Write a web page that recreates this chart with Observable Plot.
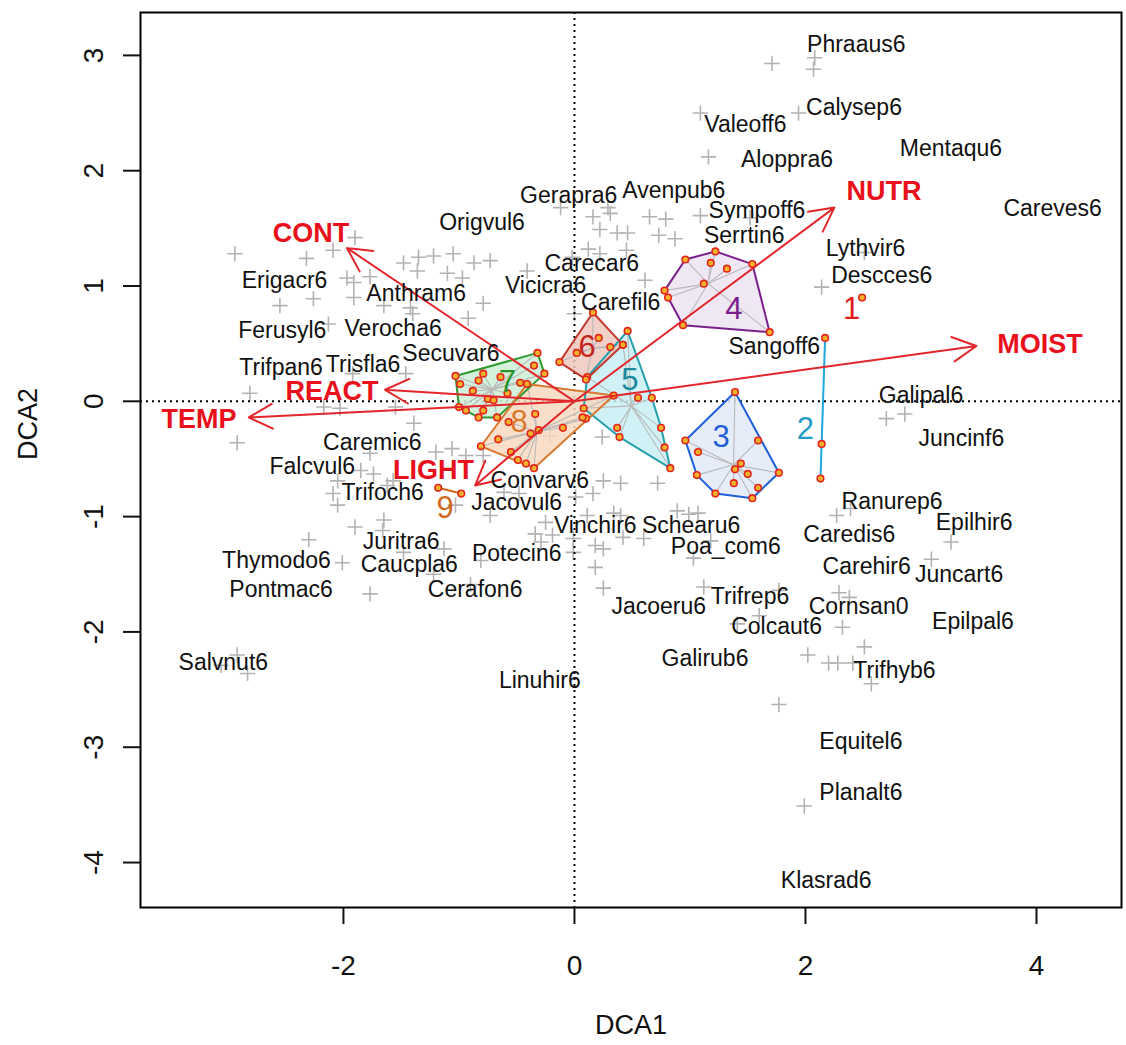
<!DOCTYPE html>
<html><head><meta charset="utf-8">
<script src="https://cdn.jsdelivr.net/npm/d3@7"></script>
<script src="https://cdn.jsdelivr.net/npm/@observablehq/plot@0.6"></script>
<style>body{margin:0;background:#fff;} #chart{width:1126px;height:1045px;}</style>
</head><body><div id="chart"></div>
<script>
// ---- Labelled species (DCA1, DCA2) ----
const speciesNames = ["Phraaus6","Calysep6","Valeoff6","Mentaqu6","Aloppra6","Gerapra6","Avenpub6","Sympoff6","Careves6","Origvul6","Serrtin6","Lythvir6","Erigacr6","Carecar6","Descces6","Vicicra6","Anthram6","Carefil6","Ferusyl6","Verocha6","Sangoff6","Secuvar6","Trifpan6","Trisfla6","Galipal6","Juncinf6","Caremic6","Falcvul6","Convarv6","Trifoch6","Jacovul6","Ranurep6","Epilhir6","Vinchir6","Schearu6","Caredis6","Poa_com6","Juritra6","Thymodo6","Potecin6","Caucpla6","Carehir6","Juncart6","Pontmac6","Trifrep6","Cerafon6","Cornsan0","Jacoeru6","Epilpal6","Colcaut6","Galirub6","Trifhyb6","Salvnut6","Linuhir6","Equitel6","Planalt6","Klasrad6"];
const speciesX = [2.44,2.42,1.48,3.26,1.84,-0.05,0.86,1.58,4.14,-0.80,1.47,2.52,-2.51,0.15,2.66,-0.25,-1.37,0.40,-2.53,-1.57,1.73,-1.07,-2.54,-1.83,3.00,3.35,-1.75,-2.27,-0.30,-1.66,-0.50,2.75,3.46,0.18,1.01,2.38,1.31,-1.50,-2.58,-0.50,-1.43,2.53,3.33,-2.54,1.52,-0.86,2.46,0.73,3.45,1.75,1.13,2.77,-3.04,-0.30,2.48,2.48,2.18];
const speciesY = [3.09,2.55,2.40,2.19,2.10,1.78,1.83,1.65,1.67,1.55,1.44,1.32,1.05,1.19,1.09,1.00,0.93,0.86,0.61,0.63,0.47,0.41,0.29,0.32,0.05,-0.32,-0.36,-0.57,-0.69,-0.79,-0.88,-0.87,-1.05,-1.08,-1.08,-1.16,-1.26,-1.22,-1.38,-1.32,-1.42,-1.43,-1.50,-1.63,-1.69,-1.63,-1.78,-1.78,-1.91,-1.95,-2.23,-2.34,-2.27,-2.42,-2.95,-3.39,-4.16];

// ---- Unlabelled species (grey crosses) ----
const otherSpecies = [[-1.90,1.42],[-2.94,1.28],[-2.32,1.24],[-2.09,1.31],[-1.97,1.07],[-1.77,1.08],[-1.91,1.03],[-1.91,0.90],[-2.26,0.89],[-2.55,0.83],[-1.48,1.20],[-1.35,1.25],[-1.22,1.26],[-1.05,1.28],[-1.36,1.13],[-0.87,1.20],[-0.73,1.22],[-1.10,1.11],[-0.97,1.07],[-1.65,0.83],[-1.42,0.81],[-1.40,0.76],[-0.92,0.72],[-0.79,0.85],[-2.13,0.67],[-1.46,0.24],[-1.92,0.24],[-2.81,0.07],[-2.17,-0.05],[-2.03,-0.06],[-1.55,-0.05],[-1.39,-0.19],[-2.92,-0.36],[-1.77,-0.45],[-1.20,-0.44],[-1.06,-0.41],[-0.94,-0.47],[-0.79,-0.47],[-1.85,-0.60],[-1.74,-0.63],[-2.05,-0.69],[-2.09,-0.80],[-1.57,-0.69],[-1.62,-0.73],[-0.61,-0.79],[-0.48,-0.80],[-0.21,-0.30],[-2.05,-0.90],[-1.90,-1.09],[-1.65,-1.03],[-1.66,-1.12],[-2.30,-1.20],[-2.01,-1.40],[-1.48,-1.31],[-1.13,-1.28],[-1.22,-1.50],[-1.77,-1.67],[-0.90,-1.59],[-0.81,-1.38],[-0.73,-0.99],[-0.25,-1.05],[-0.34,-1.15],[-0.29,-1.22],[-0.19,-1.16],[-0.01,-1.19],[-0.01,-1.31],[0.18,-1.25],[0.25,-1.28],[0.18,-1.44],[0.25,-1.62],[-2.92,-2.20],[-3.06,-2.29],[-2.83,-2.36],[0.16,-0.80],[0.34,-0.97],[-1.03,-0.90],[0.25,-0.69],[0.40,-0.71],[0.72,-0.71],[0.01,-0.83],[0.11,-0.99],[0.40,-0.99],[0.42,-1.18],[0.60,-1.19],[0.89,-0.95],[0.99,-0.98],[1.07,-0.97],[1.03,-1.36],[1.18,-1.21],[1.12,-1.61],[2.70,-0.15],[2.86,-0.11],[0.24,-0.31],[2.27,-0.99],[2.39,-0.93],[3.26,-1.22],[3.09,-1.37],[1.77,-1.64],[2.29,-1.66],[2.38,-1.70],[2.32,-1.96],[1.41,-1.93],[1.60,-1.86],[2.02,-2.20],[2.20,-2.27],[2.28,-2.27],[2.41,-2.27],[2.51,-2.13],[2.57,-2.45],[1.77,-2.63],[1.99,-3.51],[1.71,2.93],[2.08,2.98],[2.07,2.88],[1.09,2.50],[1.94,2.50],[1.16,2.12],[0.16,1.60],[0.31,1.63],[0.65,1.60],[0.79,1.58],[1.09,1.61],[1.52,1.59],[0.22,1.49],[0.37,1.46],[0.46,1.46],[0.73,1.44],[0.87,1.41],[0.12,1.32],[0.22,1.28],[0.45,1.31],[0.61,1.05],[0.00,0.76],[2.51,1.29],[2.14,0.99],[-0.12,1.68],[0.29,1.68],[-0.02,1.25],[-0.41,1.13]];

// ---- Environmental vectors ----
const envNames = ["CONT","REACT","TEMP","LIGHT","NUTR","MOIST"];
const envX = [-1.97,-1.64,-2.82,-0.86,2.25,3.48];
const envY = [1.33,0.10,-0.14,-0.73,1.68,0.48];
const envLabelX = [-2.28,-2.10,-3.25,-1.22,2.68,4.03];
const envLabelY = [1.46,0.09,-0.16,-0.60,1.82,0.49];

// ---- Site groups (cluster members) ----
const group1 = [[2.49,0.90]];
const group2 = [[2.17,0.55],[2.14,-0.37],[2.13,-0.67]];
const group3 = [[1.39,0.08],[0.96,-0.34],[1.06,-0.64],[1.22,-0.80],[1.54,-0.84],[1.77,-0.62],[1.59,-0.34],[1.07,-0.44],[1.44,-0.54],[1.39,-0.59],[1.50,-0.63],[1.38,-0.71],[1.59,-0.75]];
const group4 = [[0.96,1.23],[1.22,1.30],[1.54,1.19],[1.69,0.60],[0.94,0.66],[0.81,0.90],[0.78,0.96],[1.18,1.20],[1.32,1.15],[1.12,1.02]];
const group5 = [[0.46,0.61],[0.83,-0.58],[0.08,-0.06],[0.11,0.21],[0.42,0.49],[0.55,0.03],[0.67,0.03],[0.75,-0.23],[0.78,-0.40],[0.37,-0.23],[0.39,-0.31]];
const group6 = [[0.16,0.77],[0.42,0.49],[0.10,0.19],[-0.13,0.34],[0.21,0.55],[0.31,0.47],[0.02,0.42]];
const group7 = [[-1.03,0.22],[-0.32,0.42],[-0.26,0.24],[-0.67,-0.14],[-0.83,-0.14],[-1.00,-0.05],[-0.79,0.24],[-0.83,0.18],[-0.64,0.21],[-0.47,0.16],[-0.35,0.31],[-0.99,0.15],[-0.88,0.09],[-0.75,0.02],[-0.70,0.01],[-0.79,-0.08],[-0.94,-0.08],[-0.58,0.07]];
const group8 = [[-0.81,-0.39],[-0.41,0.15],[0.34,0.05],[0.10,-0.15],[-0.35,-0.58],[-0.34,-0.11],[-0.10,-0.23],[0.07,-0.14],[-0.38,-0.28],[-0.31,-0.25],[-0.57,-0.18],[-0.66,-0.33],[-0.55,-0.44],[-0.49,-0.51],[-0.42,-0.54]];
const group9 = [[-1.18,-0.75],[-0.98,-0.80]];
const groupIds = ["1","2","3","4","5","6","7","8","9"];
const groupLabelX = [2.40,2.00,1.27,1.38,0.48,0.11,-0.58,-0.48,-1.12];
const groupLabelY = [0.80,-0.24,-0.31,0.80,0.18,0.47,0.17,-0.18,-0.93];

// ---- Styling ----
const groupPts = [group1,group2,group3,group4,group5,group6,group7,group8,group9];
const groupStroke = ["#e31a1c","#22a9de","#1f5fd8","#7a1f8c","#24a0ad","#c0392b","#2e9a2e","#d9782f","#d2691e"];
const groupText = ["#e31a1c","#1f9dc8","#1f5fd8","#7a1f8c","#1a8a9c","#c4241c","#2a962a","#d9782f","#d2691e"];
const groupFill = [null,null,"#e3e9f8","#ece3f2","#c8eef4","#f1c8bd","#cdeed5","#f8d9c0",null];
const font = "'Liberation Sans', Arial, Helvetica, sans-serif";
const arrowRed = "#e2262b";

const species = speciesNames.map((n,i)=>({name:n, x:speciesX[i], y:speciesY[i]}));
const others = otherSpecies.map(([x,y])=>({x,y}));
const env = envNames.map((n,i)=>({name:n, x:envX[i], y:envY[i], lx:envLabelX[i], ly:envLabelY[i]}));
const sitePts = groupIds.flatMap((g,i)=>groupPts[i].map(([x,y])=>({g,x,y})));
const spiders = groupIds.flatMap((g,i)=>{
  const cx = d3.mean(groupPts[i], d=>d[0]), cy = d3.mean(groupPts[i], d=>d[1]);
  return groupPts[i].map(([x,y])=>({x1:cx,y1:cy,x2:x,y2:y}));
});

const marks = [];
marks.push(Plot.dot(others, {x:"x", y:"y", symbol:"plus", r:5, stroke:"#b3b3b3", strokeWidth:1.6}));
marks.push(Plot.ruleX([0], {stroke:"#000", strokeWidth:2, strokeDasharray:"2,4"}));
marks.push(Plot.ruleY([0], {stroke:"#000", strokeWidth:2, strokeDasharray:"2,4"}));
groupIds.forEach((g,i)=>{
  if (groupFill[i]) marks.push(Plot.hull(groupPts[i], {x:d=>d[0], y:d=>d[1], fill:groupFill[i], fillOpacity:0.85, stroke:"none"}));
});
marks.push(Plot.link(spiders, {x1:"x1", y1:"y1", x2:"x2", y2:"y2", stroke:"#b9b9b9", strokeWidth:1.1}));
groupIds.forEach((g,i)=>{
  if (groupPts[i].length > 1) marks.push(Plot.hull(groupPts[i], {x:d=>d[0], y:d=>d[1], fill:"none", stroke:groupStroke[i], strokeWidth:2}));
});
marks.push(Plot.dot(sitePts, {x:"x", y:"y", r:3.3, stroke:"#e3261c", fill:"#f4b22c", strokeWidth:1.6}));
marks.push(Plot.arrow(env, {x1:()=>0, y1:()=>0, x2:"x", y2:"y", stroke:arrowRed, strokeWidth:2, headLength:20, headAngle:55}));
marks.push(Plot.text(species, {x:"x", y:"y", text:"name", fontSize:23, fill:"#111"}));
marks.push(Plot.text(env, {x:"lx", y:"ly", text:"name", fontSize:27, fontWeight:"bold", fill:"#e8101a"}));
groupIds.forEach((g,i)=>{
  marks.push(Plot.text([g], {x:()=>groupLabelX[i], y:()=>groupLabelY[i], text:d=>d, fontSize:31, fill:groupText[i]}));
});
marks.push(Plot.axisX({ticks:[-2,0,2,4], tickSize:17, tickPadding:31, fontSize:28, tickFormat:d=>String(d), label:null, strokeWidth:2}));
marks.push(Plot.axisY({ticks:[-4,-3,-2,-1,0,1,2,3], tickSize:17, tickPadding:21, tickRotate:-90, fontSize:28, tickFormat:d=>String(d), label:null, strokeWidth:2}));
marks.push(Plot.frame({stroke:"#000", strokeWidth:2}));
marks.push(Plot.text(["DCA1"], {frameAnchor:"bottom", dy:126, text:d=>d, fontSize:27, fill:"#111"}));
marks.push(Plot.text(["DCA2"], {frameAnchor:"left", dx:-112, rotate:-90, text:d=>d, fontSize:27, fill:"#111"}));

const chart = Plot.plot({
  width:1126, height:1045,
  marginLeft:140, marginRight:5, marginTop:12, marginBottom:138,
  x:{domain:[-3.757,4.736]},
  y:{domain:[-4.39,3.372]},
  style:{fontFamily:font, background:"#fff", color:"#111"},
  marks
});
document.getElementById("chart").appendChild(chart);
</script></body></html>
